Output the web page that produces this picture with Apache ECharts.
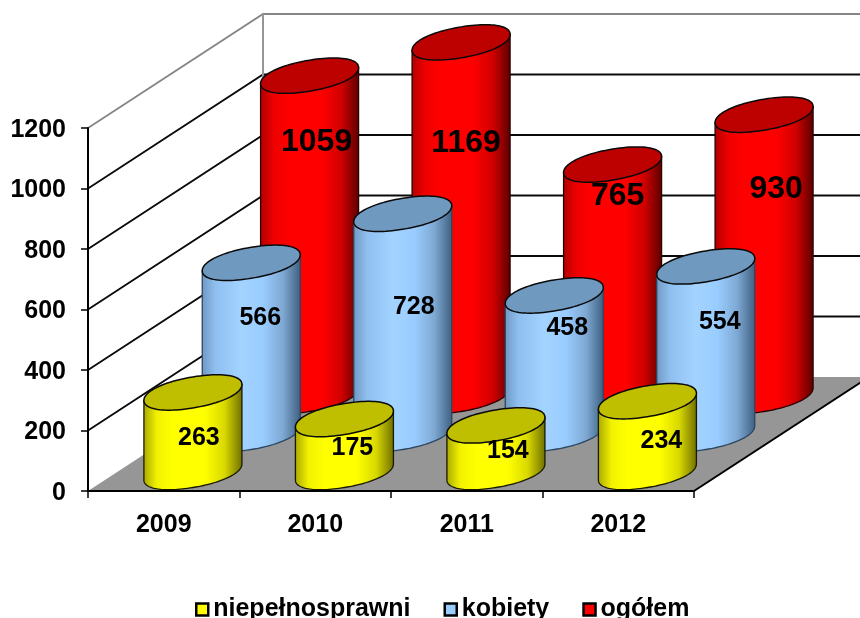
<!DOCTYPE html>
<html><head><meta charset="utf-8">
<style>html,body{margin:0;padding:0;background:#fff}#c{width:860px;height:618px}</style>
<script src="https://cdn.jsdelivr.net/npm/echarts@6/dist/echarts.min.js"></script>
</head><body><div id="c"></div>
<script>
const categories = ['2009','2010','2011','2012'];
const yTicks = [0,200,400,600,800,1000,1200];
const niepelnosprawni = [263,175,154,234];
const kobiety = [566,728,458,554];
const ogolem = [1059,1169,765,930];

// perspective of the 3D frame, in pixels
const DEPTH_X = 175, DEPTH_Y = -114;
const RX = 49, TILT = -8, RY = 15.5;
const ROUND = 0.94;
const FONT = '"Liberation Sans", Arial, sans-serif';
// label nudges relative to each cylinder's top centre
const yellowLabelAt = [[6,46],[8,29],[12,26],[14,40]];
const blueLabelAt = [[9,55],[11,93],[13,33],[14,56]];
const redLabelAt = [[7,67],[5,101],[5,32],[12,74]];

const grad = (stops) => new echarts.graphic.LinearGradient(0,0,1,0,
  stops.map(s => ({offset:s[0], color:s[1]})));
const spow = (c) => Math.sign(c)*Math.pow(Math.abs(c), ROUND);

function ellipsePts(cx, cy, from, to, n) {
  const pts = [];
  for (let i=0;i<=n;i++){
    const t = from + (to-from)*i/n;
    const c = spow(Math.cos(t)), s = spow(Math.sin(t));
    pts.push([cx + RX*c, cy + TILT*c + RY*s]);
  }
  return pts;
}

function cylinderSeries(name, data, frac, look, labelAt, fontSize, z) {
  return {
    name, type:'custom', coordinateSystem:'cartesian2d', z, clip:false,
    itemStyle:{color:look.swatch},
    data: data.map((v,i)=>[i,v]),
    encode:{x:0,y:1},
    renderItem(params, api){
      const i = api.value(0), v = api.value(1);
      const dx = DEPTH_X*frac, dy = DEPTH_Y*frac;
      const top = api.coord([i,v]), base = api.coord([i,0]);
      const cx = top[0]+dx, ty = top[1]+dy, by = base[1]+dy;
      const lid = ellipsePts(cx, ty, 0, Math.PI*2, 96);
      const bodyPts = [[cx+RX, ty+TILT], ...ellipsePts(cx, by, 0, Math.PI, 64), [cx-RX, ty-TILT]];
      return {type:'group', children:[
        {type:'polygon', shape:{points:bodyPts},
         style:{fill:grad(look.stops), stroke:look.edge, lineWidth:1.3}},
        {type:'polygon', shape:{points:lid},
         style:{fill:look.lid, stroke:'#0a0a0a', lineWidth:1.5}},
        {type:'text', style:{text:String(v), x:cx+labelAt[i][0], y:ty+labelAt[i][1],
          align:'center', verticalAlign:'middle', fill:'#000',
          font:'bold '+fontSize+'px '+FONT}}
      ]};
    }
  };
}

const frameSeries = {
  type:'custom', coordinateSystem:'cartesian2d', z:1, clip:false, silent:true,
  legendHoverLink:false,
  data: yTicks.map(v=>[0,v]),
  encode:{x:0,y:1},
  renderItem(params, api){
    const v = api.value(1);
    const bandHalf = api.size([1,0])[0]/2;
    const L = api.coord([0,v])[0]-bandHalf;
    const R = api.coord([categories.length-1,v])[0]+bandHalf;
    const y = api.coord([0,v])[1];
    const kids = [];
    if (v===0) {
      kids.push({type:'polygon', shape:{points:[[L,y],[L+DEPTH_X,y+DEPTH_Y],[R+DEPTH_X,y+DEPTH_Y],[R,y]]},
        style:{fill:'#969696', stroke:null}});
      kids.push({type:'line', shape:{x1:R,y1:y,x2:R+DEPTH_X,y2:y+DEPTH_Y}, style:{stroke:'#000',lineWidth:2}});
      return {type:'group',children:kids};
    }
    const c = v===yTicks[yTicks.length-1] ? '#868686' : '#0a0a0a';
    kids.push({type:'polyline', shape:{points:[[L,y],[L+DEPTH_X,y+DEPTH_Y],[R+DEPTH_X,y+DEPTH_Y]]},
      style:{fill:null, stroke:c, lineWidth:1.8}});
    if (v===yTicks[yTicks.length-1]) {
      const y0 = api.coord([0,0])[1];
      kids.push({type:'line', shape:{x1:L+DEPTH_X,y1:y+DEPTH_Y,x2:L+DEPTH_X,y2:y0+DEPTH_Y},
        style:{stroke:'#969696',lineWidth:2}});
    }
    return {type:'group',children:kids};
  }
};

const looks = {
  yellow:{swatch:'#ffff00', lid:'#bfbf00', edge:'#1a1a00',
    stops:[[0,'#a8a800'],[0.14,'#f2f200'],[0.3,'#ffff00'],[0.62,'#ffff00'],[0.82,'#d8d800'],[1,'#6e6e00']]},
  blue:{swatch:'#99ccff', lid:'#7099c0', edge:'#2c4660',
    stops:[[0,'#6f98c2'],[0.14,'#8fbfef'],[0.4,'#a3d3ff'],[0.62,'#99ccff'],[0.82,'#7ea8d2'],[1,'#3d5f80']]},
  red:{swatch:'#ff0000', lid:'#bd0000', edge:'#2a0000',
    stops:[[0,'#b00000'],[0.14,'#ee0000'],[0.3,'#ff0000'],[0.62,'#ff0000'],[0.82,'#d00000'],[1,'#5a0000']]}
};

const chart = echarts.init(document.getElementById('c'), null, {renderer:'canvas'});
chart.setOption({
  animation:false,
  textStyle:{fontFamily:FONT},
  grid:{left:88, top:128, width:606, height:363, containLabel:false},
  xAxis:{type:'category', data:categories, z:10,
    axisLine:{show:true, lineStyle:{color:'#000', width:2}},
    axisTick:{show:true, length:7, alignWithLabel:false, lineStyle:{color:'#000', width:1.5}},
    axisLabel:{fontFamily:FONT, fontWeight:'bold', fontSize:25, color:'#000', margin:22},
    splitLine:{show:false}},
  yAxis:{type:'value', min:0, max:1200, interval:200, z:10,
    axisLine:{show:true, lineStyle:{color:'#000', width:2}},
    axisTick:{show:true, length:7, lineStyle:{color:'#000', width:1.5}},
    axisLabel:{fontFamily:FONT, fontWeight:'bold', fontSize:25, color:'#000', margin:22,
      lineHeight:30, verticalAlign:'top', padding:[-13,0,0,0], formatter:(v)=>String(v)},
    splitLine:{show:false}},
  legend:{show:true, left:190, top:592, itemWidth:12, itemHeight:12, itemGap:33,
    icon:'rect', selectedMode:false,
    itemStyle:{borderColor:'#000', borderWidth:2.5},
    data:['niepełnosprawni','kobiety','ogółem'],
    textStyle:{fontFamily:FONT, fontWeight:'bold', fontSize:25, color:'#000'}},
  series:[
    frameSeries,
    cylinderSeries('ogółem', ogolem, 5/6, looks.red, redLabelAt, 32, 3),
    cylinderSeries('kobiety', kobiety, 1/2, looks.blue, blueLabelAt, 25, 4),
    cylinderSeries('niepełnosprawni', niepelnosprawni, 1/6, looks.yellow, yellowLabelAt, 25, 5)
  ]
});
</script></body></html>
